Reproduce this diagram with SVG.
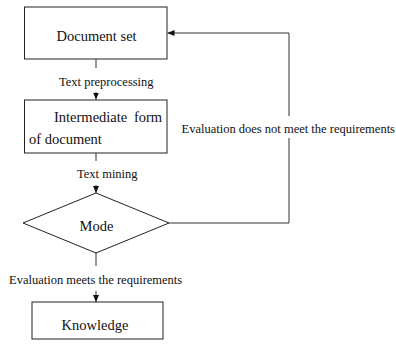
<svg xmlns="http://www.w3.org/2000/svg" width="396" height="346" viewBox="0 0 396 346">
  <style>
    .node { fill: #ffffff; stroke: #222222; stroke-width: 1; }
    .edge { fill: none; stroke: #333333; stroke-width: 1; }
    .ntext { font-family: "Liberation Serif", "Times New Roman", serif; font-size: 14.5px; fill: #111111; }
    .ltext { font-family: "Liberation Serif", "Times New Roman", serif; font-size: 12.5px; fill: #111111; }
  </style>
  <defs>
    <marker id="arrow" markerWidth="7" markerHeight="6" refX="7" refY="3" orient="auto" markerUnits="userSpaceOnUse">
      <path d="M0,0 L7,3 L0,6 Z" fill="#111111"/>
    </marker>
  </defs>

  <rect width="396" height="346" fill="#ffffff"/>

  <g id="connectors">
    <!-- Document set -> Intermediate form -->
    <line class="edge" x1="96" y1="59" x2="96" y2="68"/>
    <line class="edge" x1="96" y1="92" x2="96" y2="99.5" marker-end="url(#arrow)"/>
    <!-- Intermediate form -> Mode -->
    <line class="edge" x1="96" y1="153" x2="96" y2="161"/>
    <line class="edge" x1="96" y1="185" x2="96" y2="193" marker-end="url(#arrow)"/>
    <!-- Mode -> Knowledge -->
    <line class="edge" x1="96" y1="253" x2="96" y2="266"/>
    <line class="edge" x1="96" y1="291" x2="96" y2="302" marker-end="url(#arrow)"/>
    <!-- feedback loop: Mode -> Document set -->
    <polyline class="edge" points="169,223 289,223 289,138"/>
    <polyline class="edge" points="289,116 289,33 167.5,33" marker-end="url(#arrow)"/>
    <text class="ltext" x="59" y="86">Text preprocessing</text>
    <text class="ltext" x="77" y="178">Text mining</text>
    <text class="ltext" x="9" y="284">Evaluation meets the requirements</text>
    <text class="ltext" x="181.5" y="132.5">Evaluation does not meet the requirements</text>
  </g>

  <g id="document-set">
    <rect class="node" x="24.5" y="7" width="142.5" height="52"/>
    <text class="ntext" x="56.5" y="40.5">Document set</text>
  </g>

  <g id="intermediate-form">
    <rect class="node" x="24.5" y="100" width="142.5" height="53"/>
    <text class="ntext" x="54" y="121.5" word-spacing="3">Intermediate form</text>
    <text class="ntext" x="29" y="143.5">of document</text>
  </g>

  <g id="mode">
    <polygon class="node" points="96,193 169,223 96,253 23,223"/>
    <text class="ntext" x="79.5" y="231">Mode</text>
  </g>

  <g id="knowledge">
    <rect class="node" x="32" y="302" width="131" height="37"/>
    <text class="ntext" x="61.5" y="330">Knowledge</text>
  </g>
</svg>
